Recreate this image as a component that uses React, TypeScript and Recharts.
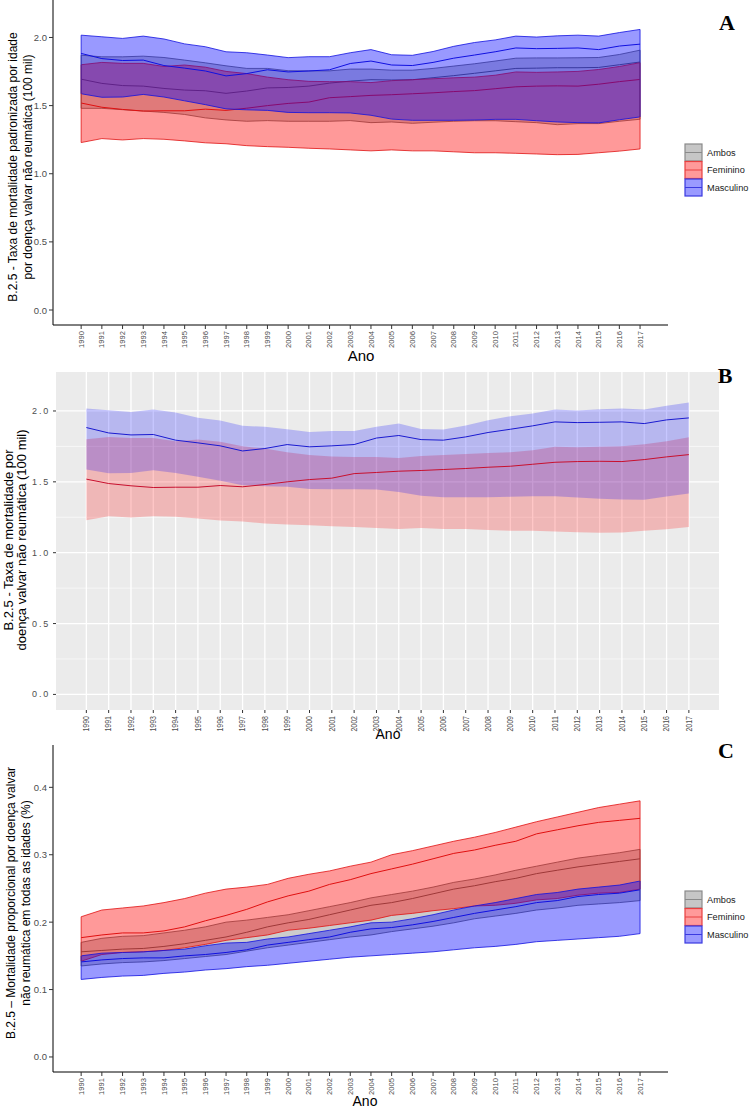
import { ComposedChart, Area, Line, XAxis, YAxis, CartesianGrid, ReferenceLine } from "recharts";

const years = [1990, 1991, 1992, 1993, 1994, 1995, 1996, 1997, 1998, 1999, 2000, 2001, 2002, 2003, 2004, 2005, 2006, 2007, 2008, 2009, 2010, 2011, 2012, 2013, 2014, 2015, 2016, 2017];

// taxa padronizada (A e B)
const ambosMean = [1.694, 1.663, 1.647, 1.643, 1.626, 1.614, 1.609, 1.59, 1.607, 1.63, 1.633, 1.643, 1.665, 1.68, 1.69, 1.688, 1.69, 1.705, 1.72, 1.737, 1.755, 1.773, 1.775, 1.778, 1.778, 1.78, 1.8, 1.82];
const ambosLow = [1.48, 1.48, 1.47, 1.46, 1.45, 1.435, 1.41, 1.395, 1.385, 1.39, 1.385, 1.385, 1.385, 1.39, 1.375, 1.38, 1.37, 1.378, 1.385, 1.389, 1.389, 1.382, 1.375, 1.36, 1.368, 1.368, 1.385, 1.4];
const ambosHigh = [1.87, 1.858, 1.858, 1.863, 1.853, 1.834, 1.814, 1.792, 1.773, 1.773, 1.756, 1.755, 1.755, 1.768, 1.768, 1.76, 1.76, 1.773, 1.79, 1.807, 1.827, 1.848, 1.85, 1.85, 1.851, 1.853, 1.875, 1.907];
const femMean = [1.519, 1.488, 1.472, 1.46, 1.462, 1.462, 1.474, 1.465, 1.481, 1.5, 1.516, 1.526, 1.558, 1.566, 1.575, 1.58, 1.587, 1.594, 1.603, 1.61, 1.624, 1.638, 1.643, 1.645, 1.643, 1.657, 1.676, 1.692];
const femLow = [1.229, 1.258, 1.248, 1.258, 1.253, 1.241, 1.227, 1.22, 1.206, 1.199, 1.194, 1.187, 1.182, 1.175, 1.168, 1.175, 1.168, 1.168, 1.161, 1.154, 1.154, 1.15, 1.145, 1.14, 1.142, 1.154, 1.166, 1.182];
const femHigh = [1.8, 1.817, 1.81, 1.81, 1.787, 1.798, 1.782, 1.751, 1.735, 1.709, 1.69, 1.678, 1.676, 1.676, 1.669, 1.683, 1.69, 1.697, 1.704, 1.709, 1.723, 1.747, 1.744, 1.747, 1.751, 1.765, 1.787, 1.815];
const mascMean = [1.883, 1.845, 1.831, 1.834, 1.794, 1.775, 1.754, 1.718, 1.735, 1.763, 1.747, 1.754, 1.763, 1.809, 1.827, 1.798, 1.794, 1.817, 1.848, 1.871, 1.895, 1.923, 1.918, 1.92, 1.923, 1.911, 1.937, 1.951];
const mascLow = [1.587, 1.561, 1.563, 1.582, 1.563, 1.535, 1.507, 1.476, 1.469, 1.465, 1.45, 1.448, 1.448, 1.446, 1.429, 1.401, 1.392, 1.392, 1.392, 1.394, 1.399, 1.399, 1.389, 1.38, 1.375, 1.373, 1.396, 1.417];
const mascHigh = [2.017, 2.005, 1.993, 2.01, 1.989, 1.953, 1.932, 1.895, 1.888, 1.871, 1.852, 1.859, 1.859, 1.888, 1.911, 1.873, 1.869, 1.897, 1.935, 1.963, 1.982, 2.01, 2.003, 2.012, 2.017, 2.01, 2.036, 2.059];

// mortalidade proporcional (C)
const propAmbosMean = [0.156, 0.158, 0.16, 0.161, 0.164, 0.168, 0.173, 0.178, 0.185, 0.193, 0.199, 0.204, 0.211, 0.218, 0.225, 0.229, 0.235, 0.242, 0.249, 0.254, 0.26, 0.265, 0.272, 0.277, 0.282, 0.286, 0.29, 0.294];
const propAmbosLow = [0.135, 0.138, 0.14, 0.141, 0.143, 0.146, 0.149, 0.152, 0.157, 0.162, 0.166, 0.17, 0.174, 0.178, 0.181, 0.186, 0.19, 0.194, 0.199, 0.205, 0.209, 0.213, 0.218, 0.221, 0.225, 0.227, 0.229, 0.232];
const propAmbosHigh = [0.17, 0.176, 0.179, 0.18, 0.184, 0.188, 0.193, 0.2, 0.203, 0.207, 0.211, 0.217, 0.223, 0.229, 0.236, 0.241, 0.246, 0.252, 0.259, 0.264, 0.27, 0.277, 0.283, 0.289, 0.295, 0.299, 0.303, 0.308];
const propFemMean = [0.177, 0.181, 0.184, 0.184, 0.187, 0.193, 0.202, 0.21, 0.219, 0.23, 0.239, 0.246, 0.256, 0.263, 0.272, 0.279, 0.286, 0.294, 0.302, 0.307, 0.314, 0.32, 0.331, 0.337, 0.343, 0.348, 0.351, 0.354];
const propFemLow = [0.142, 0.152, 0.155, 0.156, 0.158, 0.162, 0.167, 0.173, 0.177, 0.181, 0.188, 0.191, 0.195, 0.199, 0.203, 0.21, 0.213, 0.217, 0.22, 0.224, 0.225, 0.228, 0.233, 0.235, 0.24, 0.243, 0.244, 0.249];
const propFemHigh = [0.208, 0.218, 0.221, 0.224, 0.229, 0.235, 0.243, 0.249, 0.252, 0.256, 0.265, 0.271, 0.276, 0.283, 0.289, 0.3, 0.306, 0.313, 0.32, 0.326, 0.333, 0.341, 0.349, 0.356, 0.363, 0.37, 0.375, 0.38];
const propMascMean = [0.141, 0.144, 0.146, 0.147, 0.147, 0.15, 0.152, 0.155, 0.159, 0.166, 0.17, 0.174, 0.178, 0.185, 0.19, 0.192, 0.196, 0.201, 0.207, 0.213, 0.218, 0.223, 0.229, 0.232, 0.238, 0.241, 0.243, 0.248];
const propMascLow = [0.115, 0.118, 0.12, 0.121, 0.124, 0.126, 0.129, 0.131, 0.134, 0.136, 0.139, 0.142, 0.145, 0.148, 0.15, 0.152, 0.154, 0.156, 0.159, 0.162, 0.164, 0.167, 0.171, 0.173, 0.175, 0.177, 0.179, 0.183];
const propMascHigh = [0.15, 0.154, 0.155, 0.156, 0.158, 0.16, 0.165, 0.169, 0.17, 0.175, 0.178, 0.183, 0.188, 0.193, 0.199, 0.2, 0.205, 0.211, 0.218, 0.224, 0.229, 0.235, 0.241, 0.244, 0.249, 0.252, 0.255, 0.261];

const rateTicks = [0, 0.5, 1, 1.5, 2];
const rateMinor = [0.25, 0.75, 1.25, 1.75];
const propTicks = [0, 0.1, 0.2, 0.3, 0.4];

const FONT = "'Liberation Sans', Arial, sans-serif";
const X_DOMAIN = [1988.64, 2018.35];

const rateRows = years.map((year, i) => ({
  year,
  ambos: [ambosLow[i], ambosHigh[i]],
  ambosMid: ambosMean[i],
  fem: [femLow[i], femHigh[i]],
  femMid: femMean[i],
  masc: [mascLow[i], mascHigh[i]],
  mascMid: mascMean[i],
}));

const propRows = years.map((year, i) => ({
  year,
  ambos: [propAmbosLow[i], propAmbosHigh[i]],
  ambosMid: propAmbosMean[i],
  fem: [propFemLow[i], propFemHigh[i]],
  femMid: propFemMean[i],
  masc: [propMascLow[i], propMascHigh[i]],
  mascMid: propMascMean[i],
}));

const groups = [
  { key: "ambos", label: "Ambos", fill: "#808080", stroke: "#5e5e5e", key2: "#c6c6c6", border: "#8a8a8a" },
  { key: "fem", label: "Feminino", fill: "#ff0000", stroke: "#e01010", key2: "#ff9a9a", border: "#e84040" },
  { key: "masc", label: "Masculino", fill: "#0000ff", stroke: "#1010e0", key2: "#9a9aff", border: "#3a3ae0" },
];

// rotated year labels; squeeze < 1 narrows the glyphs along the text
const xTick = (fontSize: number, squeeze: number) => (props: any) => {
  const { x, y, payload } = props;
  return (
    <text
      transform={`translate(${x} ${y}) rotate(-90) scale(${squeeze} 1)`}
      textAnchor="end"
      dominantBaseline="central"
      fontSize={fontSize}
      fill="#4d4d4d"
      fontFamily={FONT}
    >
      {payload.value}
    </text>
  );
};

const yTick = (fontSize: number, spacing: number) => (props: any) => {
  const { x, y, payload } = props;
  return (
    <text x={x} y={y} textAnchor="end" dominantBaseline="central" fontSize={fontSize} fill="#4d4d4d" fontFamily={FONT} letterSpacing={spacing}>
      {payload.value.toFixed(1)}
    </text>
  );
};

const edges = (rows: any[], key: string, color: string) =>
  [0, rows.length - 1].map((i) => (
    <ReferenceLine
      key={key + i}
      segment={[
        { x: rows[i].year, y: rows[i][key][0] },
        { x: rows[i].year, y: rows[i][key][1] },
      ]}
      stroke={color}
      strokeWidth={0.8}
    />
  ));

const RibbonPanel = ({ rows, height, top, plotTop, xHeight, yDomain, yTicks }: any) => (
  <div style={{ position: "absolute", left: 0, top, width: 750, height }}>
    <ComposedChart width={750} height={height} data={rows} margin={{ top: plotTop, right: 82, bottom: 0, left: 0 }}>
      <XAxis
        dataKey="year"
        type="number"
        domain={X_DOMAIN}
        ticks={years}
        interval={0}
        allowDataOverflow
        height={xHeight}
        tickSize={4}
        tickMargin={2}
        stroke="#000"
        tickLine={{ stroke: "#333" }}
        tick={xTick(8, 0.95)}
      />
      <YAxis
        type="number"
        domain={yDomain}
        ticks={yTicks}
        allowDataOverflow
        width={53}
        tickSize={4}
        tickMargin={2}
        stroke="#000"
        tickLine={{ stroke: "#333" }}
        tick={yTick(9.5, 0)}
      />
      {groups.flatMap((g) => [
        <Area
          key={g.key}
          dataKey={g.key}
          type="linear"
          fill={g.fill}
          fillOpacity={0.4}
          stroke={g.stroke}
          strokeWidth={0.8}
          isAnimationActive={false}
        />,
        <Area
          key={g.key + "Mid"}
          dataKey={g.key + "Mid"}
          type="linear"
          fill="none"
          stroke={g.stroke}
          strokeWidth={1}
          isAnimationActive={false}
        />,
      ])}
      {groups.map((g) => edges(rows, g.key, g.stroke))}
    </ComposedChart>
  </div>
);

const GreyPanel = () => (
  <div style={{ position: "absolute", left: 0, top: 360, width: 750, height: 400 }}>
    <ComposedChart width={750} height={400} data={rateRows} margin={{ top: 12, right: 31, bottom: 0, left: 0 }}>
      <CartesianGrid fill="#ebebeb" stroke="#ffffff" strokeWidth={0.6} horizontalValues={rateMinor} vertical={false} />
      <CartesianGrid stroke="#ffffff" strokeWidth={1.3} horizontalValues={rateTicks} verticalValues={years} />
      <XAxis
        dataKey="year"
        type="number"
        domain={X_DOMAIN}
        ticks={years}
        interval={0}
        allowDataOverflow
        height={50}
        tickSize={3}
        tickMargin={3}
        axisLine={false}
        tickLine={{ stroke: "#333" }}
        tick={xTick(9, 0.78)}
      />
      <YAxis
        type="number"
        domain={[-0.11, 2.275]}
        ticks={rateTicks}
        allowDataOverflow
        width={56}
        tickSize={3}
        tickMargin={3}
        axisLine={false}
        tickLine={{ stroke: "#333" }}
        tick={yTick(9, 1.8)}
      />
      <Area dataKey="fem" type="linear" fill="#ff0000" fillOpacity={0.22} stroke="none" isAnimationActive={false} />
      <Area dataKey="masc" type="linear" fill="#0000ff" fillOpacity={0.22} stroke="none" isAnimationActive={false} />
      <Line dataKey="femMid" type="linear" stroke="#c8102e" strokeWidth={1} dot={false} isAnimationActive={false} />
      <Line dataKey="mascMid" type="linear" stroke="#1a1ad0" strokeWidth={1} dot={false} isAnimationActive={false} />
    </ComposedChart>
  </div>
);

const Legend = ({ top }: { top: number }) => (
  <g>
    {groups.map((g, i) => {
      const y = top + i * 17.5;
      return (
        <g key={g.key}>
          <rect x={685} y={y} width={17} height={17} fill={g.key2} stroke={g.border} strokeWidth={1.2} />
          <line x1={685} x2={702} y1={y + 8.5} y2={y + 8.5} stroke={g.border} strokeWidth={1} />
          <text x={707} y={y + 8.5} dominantBaseline="central" fontSize={9.2} fill="#1a1a1a" fontFamily={FONT}>
            {g.label}
          </text>
        </g>
      );
    })}
  </g>
);

const YTitle = ({ lines, xs, cy, size }: { lines: string[]; xs: number[]; cy: number; size: number }) => (
  <g>
    {lines.map((l, i) => (
      <text
        key={i}
        x={xs[i]}
        y={cy}
        transform={`rotate(-90 ${xs[i]} ${cy})`}
        textAnchor="middle"
        dominantBaseline="central"
        fontSize={size}
        fill="#000"
        fontFamily={FONT}
      >
        {l}
      </text>
    ))}
  </g>
);

const panelLetter = (t: string, x: number, y: number) => (
  <text x={x} y={y} textAnchor="middle" fontSize={22} fontWeight="bold" fontFamily="'Liberation Serif', 'Times New Roman', serif" fill="#000">
    {t}
  </text>
);

export default function App() {
  return (
    <div style={{ position: "absolute", left: 0, top: 0, width: 750, height: 1108, background: "#fff", overflow: "hidden" }}>
      <RibbonPanel rows={rateRows} height={370} top={0} plotTop={0} xHeight={45} yDomain={[-0.11, 2.275]} yTicks={rateTicks} />
      <GreyPanel />
      <RibbonPanel rows={propRows} height={368} top={740} plotTop={5} xHeight={36} yDomain={[-0.0223, 0.4628]} yTicks={propTicks} />
      <svg width={750} height={1108} style={{ position: "absolute", left: 0, top: 0, pointerEvents: "none" }}>
        <YTitle
          lines={["B.2.5 - Taxa de mortalidade padronizada por idade", "por doença valvar não reumática (100 mil)"]}
          xs={[13, 28]}
          cy={167}
          size={12}
        />
        <YTitle lines={["B.2.5 - Taxa de mortalidade por", "doença valvar não reumática (100 mil)"]} xs={[8, 21]} cy={540} size={13} />
        <YTitle
          lines={["B.2.5 – Mortalidade proporcional por doença valvar", "não reumática em todas as idades (%)"]}
          xs={[11, 26]}
          cy={903}
          size={12}
        />
        <text x={361} y={361} textAnchor="middle" fontSize={15} fontFamily={FONT} fill="#000">Ano</text>
        <text x={388} y={739} textAnchor="middle" fontSize={14} fontFamily={FONT} fill="#000">Ano</text>
        <text x={365} y={1106} textAnchor="middle" fontSize={14} fontFamily={FONT} fill="#000">Ano</text>
        {panelLetter("A", 727, 30)}
        {panelLetter("B", 725, 383)}
        {panelLetter("C", 726, 758)}
        <Legend top={144} />
        <Legend top={891} />
      </svg>
    </div>
  );
}
